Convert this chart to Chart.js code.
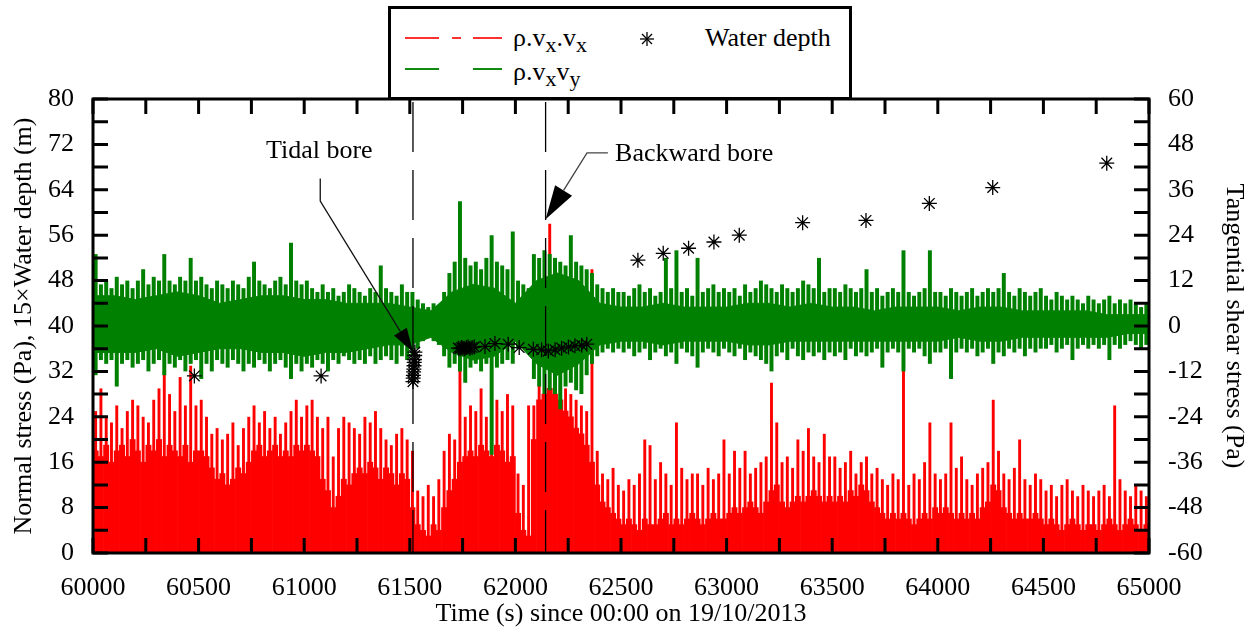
<!DOCTYPE html>
<html><head><meta charset="utf-8">
<script src="https://cdn.jsdelivr.net/npm/chart.js@4/dist/chart.umd.min.js"></script>
<style>
html,body{margin:0;padding:0;background:#fff;}
#wrap{position:relative;width:1252px;height:631px;}
canvas{display:block;}
#legend{position:absolute;left:388px;top:6px;width:458px;height:88px;border:3px solid #000;background:#fff;font-family:'Liberation Serif','Times New Roman',serif;font-size:26px;color:#000;}
#legend .seg{position:absolute;height:1.5px;}
#legend .lt{position:absolute;line-height:26px;white-space:nowrap;}
#legend sub{font-size:22px;vertical-align:-6px;line-height:0;}
#legend svg{position:absolute;}
</style></head><body>
<div id="wrap">
<canvas id="c" width="1252" height="631"></canvas>
<div id="legend">
 <div class="seg" style="left:14px;top:28px;width:34px;background:#ff3030"></div>
 <div class="seg" style="left:61px;top:28px;width:9px;background:#ff3030"></div>
 <div class="seg" style="left:82px;top:28px;width:29px;background:#ff3030"></div>
 <div class="seg" style="left:14px;top:59px;width:34px;background:#108a10"></div>
 <div class="seg" style="left:82px;top:59px;width:29px;background:#108a10"></div>
 <span class="lt" style="left:122px;top:16px">ρ.v<sub>x</sub>.v<sub>x</sub></span>
 <span class="lt" style="left:122px;top:50px">ρ.v<sub>x</sub>v<sub>y</sub></span>
 <svg style="left:248px;top:22px" width="16" height="16" viewBox="0 0 16 16"><g stroke="#000" stroke-width="1.3"><line x1="8" y1="1" x2="8" y2="15"/><line x1="1" y1="8" x2="15" y2="8"/><line x1="3" y1="3" x2="13" y2="13"/><line x1="13" y1="3" x2="3" y2="13"/></g></svg>
 <span class="lt" style="left:314px;top:16px">Water depth</span>
</div>
</div>
<script>
// ---- data ----
// dense signals summarised per 25 s bin starting at 60000 s
const binStart = 60000;
const binStep = 25;
// normal stress rho.vx.vx (Pa): peak value in each bin
const redPeak = [
 25,29,24,23,26,22,25,27,26,24,23,27,29,32,28,25,31,26,33,26,
 27,24,21,22,20,21,23,19,22,24,26,23,25,22,24,21,23,25,27,24,
 26,27,24,22,24,17,22,24,23,22,21,24,23,25,22,20,19,21,22,20,
 18,11,10,12,10,13,18,21,20,33,24,26,25,29,24,33,27,25,28,26,
 14,12,26,26,30,31,58,31,30,29,28,27,26,25,50,18,14,13,15,12,
 11,13,12,14,20,19,13,16,14,12,23,15,13,14,14,12,15,13,14,20,
 14,18,15,18,14,15,16,17,30,23,16,17,15,20,18,22,17,16,21,17,
 17,15,16,18,14,16,17,14,15,13,12,14,13,33,12,14,13,16,23,14,
 13,14,23,15,17,13,12,14,15,16,27,18,14,13,15,20,13,12,14,13,
 11,12,10,12,13,11,10,12,11,10,11,12,10,26,13,11,10,12,11,10];
// normal stress: level of the dense part in each bin
const redBase = [
 18,17,19,16,18,19,17,20,18,16,19,18,20,17,19,18,17,19,16,18,
 18,17,15,13,14,12,13,15,14,16,18,19,17,18,19,17,18,17,19,18,
 19,18,17,13,11,8,10,13,12,14,15,14,16,15,13,15,14,12,14,13,
 8,5,4,3,5,4,8,11,13,16,17,18,17,19,18,17,19,18,16,17,
 7,4,3,20,27,28,29,28,27,25,24,22,21,19,16,12,9,8,7,6,
 5,6,5,4,6,5,5,6,7,5,6,5,6,7,6,5,6,7,6,6,
 7,8,7,8,9,8,7,9,11,12,9,8,9,10,9,10,11,10,9,10,
 9,10,9,11,10,12,11,9,8,7,6,7,6,7,6,5,6,7,6,8,
 7,8,7,6,7,6,7,6,8,9,12,11,8,7,6,7,6,6,7,6,
 5,6,5,4,5,6,5,4,5,5,4,5,6,5,4,5,6,5,4,5];
// tangential shear stress rho.vx.vy (Pa, right axis): max and min in each bin
const greenHi = [
 19,11,12,10,13,11,12,10,12,15,11,13,12,19,12,11,13,12,18,12,
 13,11,10,12,11,10,12,11,10,13,17,12,11,10,12,13,11,22,12,11,
 12,10,9,11,9,10,8,9,11,10,9,8,10,9,16,10,9,8,11,9,
 9,7,6,5,6,5,9,14,17,33,18,16,17,15,18,24,17,16,15,25,
 12,11,10,19,18,20,19,18,17,16,24,17,16,15,14,11,10,9,10,9,
 9,8,10,11,9,10,8,9,18,10,20,9,10,8,18,9,10,11,9,10,
 9,10,8,11,9,10,12,11,10,9,11,10,9,10,12,11,10,18,9,10,
 10,9,11,10,9,10,15,9,10,8,9,10,9,20,9,8,9,10,20,9,
 9,8,10,9,8,9,10,8,9,10,9,10,14,9,8,10,9,8,9,10,
 8,7,9,8,7,8,7,6,8,7,6,7,8,6,7,6,7,6,5,6];
const greenLo = [
 -13,-9,-10,-9,-16,-10,-9,-11,-10,-9,-12,-10,-9,-13,-10,-11,-9,-12,-10,-9,
 -14,-10,-12,-9,-10,-11,-9,-10,-12,-10,-11,-9,-10,-12,-10,-9,-11,-14,-10,-12,
 -10,-11,-9,-10,-12,-9,-10,-8,-9,-10,-9,-10,-8,-10,-9,-8,-9,-10,-8,-9,
 -8,-6,-4,-3,-4,-5,-8,-11,-10,-12,-15,-11,-10,-12,-10,-34,-11,-10,-9,-10,
 -6,-5,-7,-14,-16,-18,-17,-18,-22,-16,-15,-17,-18,-13,-10,-8,-7,-6,-7,-6,
 -7,-6,-8,-7,-6,-9,-7,-6,-8,-7,-10,-6,-7,-8,-11,-7,-6,-7,-8,-6,
 -7,-8,-6,-9,-7,-8,-9,-10,-12,-8,-7,-9,-6,-8,-9,-7,-8,-7,-9,-7,
 -8,-7,-9,-6,-8,-7,-8,-7,-6,-11,-7,-6,-7,-12,-6,-7,-6,-8,-10,-7,
 -7,-6,-14,-7,-6,-7,-6,-8,-7,-6,-10,-7,-8,-6,-7,-6,-8,-6,-7,-6,
 -6,-5,-7,-6,-5,-9,-6,-5,-6,-5,-6,-5,-9,-5,-6,-5,-4,-5,-6,-5];
// edges of the dense green band (Pa), every 100 s from 60000 to 65000
const coreStep = 100;
const greenCoreHi = [8,8,7,8,9,8,6,7,8,8,7,7,6,6,6,5,4,9,11,10,6,12,14,12,6,5,5,6,5,5,5,6,6,5,6,5,5,4,5,5,5,4,5,5,4,4,4,4,3,3,3];
const greenCoreLo = [-7,-7,-7,-6,-8,-7,-6,-6,-7,-7,-8,-7,-7,-6,-5,-5,-3,-7,-9,-8,-4,-10,-13,-10,-5,-4,-4,-5,-4,-4,-4,-5,-5,-4,-4,-4,-4,-4,-4,-4,-4,-3,-4,-4,-3,-3,-3,-3,-3,-2,-2];
// 15 x water depth (m), left axis
const depthTimes = [60480,61080,
 61515,61516,61517,61518,61519,61520,61521,61522,61523,61524,
 61730,61738,61745,61752,61760,61768,61776,61785,61795,61805,
 61856,61903,61966,62018,62085,62124,62156,62188,62219,62251,62282,62314,62338,
 62580,62700,62820,62940,63060,63360,63660,63960,64260,64800];
const depthValues = [31.2,31.2,
 30.2,30.8,31.3,31.9,32.4,33.0,33.6,34.1,34.8,35.4,
 36.1,36.0,36.2,36.1,36.0,36.2,36.3,36.1,36.2,36.3,
 36.4,36.9,36.8,36.2,35.9,35.8,35.6,35.8,36.1,36.3,36.5,36.6,36.8,
 51.6,52.8,53.7,54.8,56.0,58.2,58.6,61.6,64.4,68.7];
// bore events (s)
const boreTimes = [61515, 62143];
// axis ranges and ticks
const xRange = [60000, 65000], xLabelStep = 500, xMinorStep = 250;
const yRange = [0, 80], yLabelStep = 8, yMinorStep = 4;
const y2Range = [-60, 60], y2LabelStep = 12;
// annotations: text anchors and leader paths in data coordinates (x: s, y: left axis)
const annotations = [
 {text:'Tidal bore', at:[60819, 69.6], path:[[61076,66.0],[61076,62.0],[61515,35.4]], head:[24,7.5], color:'#111'},
 {text:'Backward bore', at:[62472, 69.0], path:[[62438,70.5],[62339,70.5],[62143,58.8]], head:[34,10], color:'#444'}
];

// ---- build datasets ----
const binMid = i => binStart + i * binStep + binStep / 2;
const redPeakData = redPeak.map((v, i) => ({x: binMid(i), y: v}));
const redBaseData = redBase.map((v, i) => ({x: binMid(i), y: v}));
const greenData = greenHi.map((v, i) => ({x: binMid(i), y: [greenLo[i], v]}));
const coreHiData = greenCoreHi.map((v, k) => ({x: binStart + k * coreStep, y: v}));
const coreLoData = greenCoreLo.map((v, k) => ({x: binStart + k * coreStep, y: v}));
const depthData = depthTimes.map((t, i) => ({x: t, y: depthValues[i]}));

const F = "'Liberation Serif', 'Times New Roman', serif";
const tickFont = {family: F, size: 26};
const RED = '#ff0000', GREEN = '#008000';

const decor = {
  id: 'decor',
  afterDatasetsDraw(chart) {
    const {ctx, chartArea: a, scales: {x}} = chart;
    ctx.save();
    ctx.beginPath(); ctx.rect(a.left, a.top, a.right - a.left, a.bottom - a.top); ctx.clip();
    ctx.strokeStyle = '#000'; ctx.lineWidth = 1.3; ctx.setLineDash([50, 18]);
    boreTimes.forEach(t => {
      const px = x.getPixelForValue(t);
      ctx.beginPath(); ctx.moveTo(px, a.top + 3); ctx.lineTo(px, a.bottom); ctx.stroke();
    });
    ctx.restore();
  },
  afterDraw(chart) {
    const {ctx, chartArea: a, scales: {x, y}} = chart;
    ctx.save();
    ctx.strokeStyle = '#000'; ctx.lineWidth = 3; ctx.setLineDash([]);
    const L = 15;
    ctx.beginPath();
    for (let t = xRange[0]; t <= xRange[1]; t += xMinorStep) {
      const px = x.getPixelForValue(t);
      ctx.moveTo(px, a.bottom); ctx.lineTo(px, a.bottom - L);
      ctx.moveTo(px, a.top); ctx.lineTo(px, a.top + L);
    }
    for (let v = yRange[0]; v <= yRange[1]; v += yMinorStep) {
      const py = y.getPixelForValue(v);
      ctx.moveTo(a.left, py); ctx.lineTo(a.left + L, py);
      ctx.moveTo(a.right, py); ctx.lineTo(a.right - L, py);
    }
    ctx.stroke();
    ctx.strokeRect(a.left, a.top, a.right - a.left, a.bottom - a.top);
    ctx.font = '26px ' + F; ctx.textBaseline = 'alphabetic'; ctx.textAlign = 'left';
    annotations.forEach(an => {
      ctx.fillStyle = '#000';
      ctx.fillText(an.text, x.getPixelForValue(an.at[0]), y.getPixelForValue(an.at[1]));
      const pts = an.path.map(p => [x.getPixelForValue(p[0]), y.getPixelForValue(p[1])]);
      const n = pts.length;
      const [tx, ty] = pts[n - 1], [px0, py0] = pts[n - 2];
      const dx = tx - px0, dy = ty - py0, len = Math.hypot(dx, dy);
      const ux = dx / len, uy = dy / len;
      const [hl, hw] = an.head;
      const bx = tx - ux * hl, by = ty - uy * hl;
      ctx.strokeStyle = an.color; ctx.lineWidth = 1.3;
      ctx.beginPath(); ctx.moveTo(pts[0][0], pts[0][1]);
      for (let i = 1; i < n - 1; i++) ctx.lineTo(pts[i][0], pts[i][1]);
      ctx.lineTo(bx, by); ctx.stroke();
      ctx.beginPath(); ctx.moveTo(tx, ty);
      ctx.lineTo(bx - uy * hw, by + ux * hw); ctx.lineTo(bx + uy * hw, by - ux * hw);
      ctx.closePath(); ctx.fill();
    });
    ctx.restore();
  }
};

new Chart(document.getElementById('c'), {
  type: 'scatter',
  data: {
    datasets: [
      {label: 'Water depth', data: depthData, yAxisID: 'y', pointStyle: 'star', pointRadius: 7.5,
       borderColor: '#000', backgroundColor: 'rgba(0,0,0,0)', borderWidth: 1.3, showLine: false},
      {type: 'bar', label: 'ρ.vx.vy', data: greenData, yAxisID: 'y2', backgroundColor: GREEN,
       borderWidth: 0, grouped: false, barPercentage: 0.75, categoryPercentage: 1},
      {type: 'line', label: 'band top', data: coreHiData, yAxisID: 'y2', borderColor: GREEN, borderWidth: 1,
       backgroundColor: GREEN, pointRadius: 0, fill: '+1', tension: 0},
      {type: 'line', label: 'band bottom', data: coreLoData, yAxisID: 'y2', borderColor: GREEN, borderWidth: 1,
       pointRadius: 0, fill: false, tension: 0},
      {type: 'bar', label: 'ρ.vx.vx peaks', data: redPeakData, yAxisID: 'y', backgroundColor: RED,
       borderWidth: 0, grouped: false, barPercentage: 0.55, categoryPercentage: 1},
      {type: 'bar', label: 'ρ.vx.vx', data: redBaseData, yAxisID: 'y', backgroundColor: RED,
       borderWidth: 0, grouped: false, barPercentage: 1, categoryPercentage: 1}
    ]
  },
  options: {
    responsive: false, animation: false, devicePixelRatio: 1,
    layout: {padding: {top: 99, left: 0, right: 0, bottom: 0}},
    plugins: {legend: {display: false}, tooltip: {enabled: false}},
    scales: {
      x: {type: 'linear', position: 'bottom', min: xRange[0], max: xRange[1], offset: false,
        grid: {display: false}, border: {display: false},
        ticks: {stepSize: xLabelStep, callback: v => String(v), font: tickFont, color: '#000', padding: 12, maxRotation: 0, autoSkip: false},
        title: {display: true, text: 'Time (s) since 00:00 on 19/10/2013', font: tickFont, color: '#000', padding: {top: 0, bottom: 1}},
        afterFit(s) { s.height = 78; }},
      y: {type: 'linear', position: 'left', min: yRange[0], max: yRange[1],
        grid: {display: false}, border: {display: false},
        ticks: {stepSize: yLabelStep, font: tickFont, color: '#000', padding: 11},
        title: {display: true, text: 'Normal stress (Pa), 15×Water depth (m)', font: tickFont, color: '#000', padding: {top: 9, bottom: 0}},
        afterFit(s) { s.width = 93; }},
      y2: {type: 'linear', position: 'right', min: y2Range[0], max: y2Range[1],
        grid: {display: false}, border: {display: false},
        ticks: {stepSize: y2LabelStep, font: tickFont, color: '#000', padding: 11},
        title: {display: true, text: 'Tangential shear stress (Pa)', font: tickFont, color: '#000', padding: {top: 3, bottom: 0}},
        afterFit(s) { s.width = 103; }}
    }
  },
  plugins: [decor]
});
</script>
</body></html>
